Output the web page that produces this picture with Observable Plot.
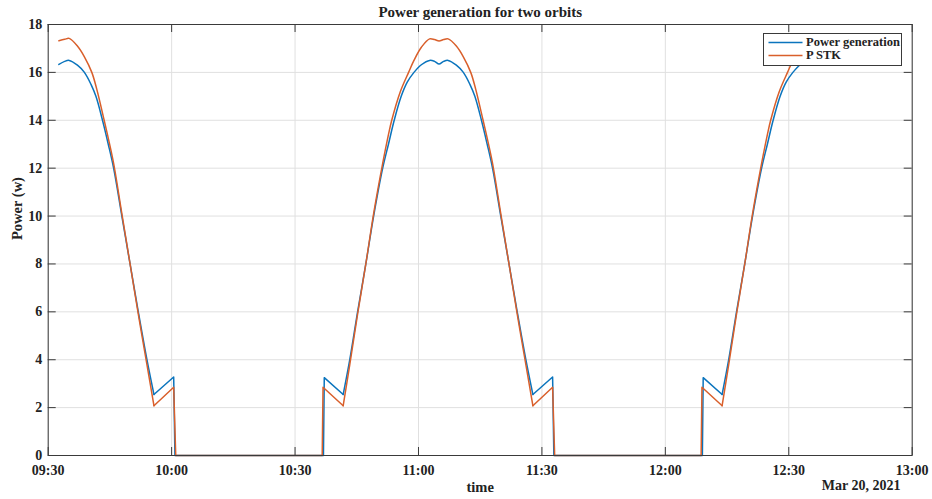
<!DOCTYPE html>
<html><head><meta charset="utf-8">
<script src="https://cdn.jsdelivr.net/npm/d3@7"></script>
<script src="https://cdn.jsdelivr.net/npm/@observablehq/plot@0.6"></script>
<style>
html,body{margin:0;padding:0;background:#fff;}
#wrap{position:relative;width:932px;height:499px;}
#legend{position:absolute;left:763px;top:33px;width:139px;height:33px;border:1px solid #3a3a3a;background:#fff;box-sizing:border-box;font:bold 12.5px "Liberation Serif",serif;color:#222;}
#legend .row{position:absolute;left:0;height:13px;line-height:13px;white-space:nowrap;}
#legend svg{position:absolute;left:4px;top:0;}
#legend span{position:absolute;left:42px;top:0;}
</style></head>
<body>
<div id="wrap"></div>
<script>
// Series: Power generation (blue)
const timesPG = [
 "09:32:36","09:34:00","09:35:06","09:37:06","09:38:48","09:40:24","09:41:36","09:43:12","09:44:36","09:45:54","09:47:54","09:49:54","09:51:54","09:54:00","09:55:42","10:00:30","10:00:48",
 "10:36:54","10:37:06","10:41:42","10:43:18","10:45:12","10:47:12","10:49:06","10:51:18","10:52:42","10:54:06","10:55:48","10:57:18","10:58:54","11:00:42","11:02:42","11:03:54","11:05:00","11:06:06","11:07:12","11:09:12","11:10:54","11:12:30","11:13:42","11:15:18","11:16:42","11:18:00","11:20:00","11:22:00","11:24:00","11:26:06","11:27:48","11:32:36","11:32:54",
 "12:09:00","12:09:12","12:13:48","12:15:24","12:17:18","12:19:18","12:21:12","12:23:24","12:24:48","12:26:12","12:27:54","12:29:24","12:31:00","12:32:48","12:34:48"
];
const valuesPG = [
 16.33,16.46,16.5,16.3,16.0,15.5,15.0,14.0,13.0,12.0,10.0,8.0,6.0,4.0,2.55,3.28,0,
 0,3.25,2.55,4.0,6.0,8.0,10.0,12.0,13.0,14.0,15.0,15.6,16.0,16.32,16.5,16.46,16.35,16.46,16.5,16.3,16.0,15.5,15.0,14.0,13.0,12.0,10.0,8.0,6.0,4.0,2.55,3.28,0,
 0,3.25,2.55,4.0,6.0,8.0,10.0,12.0,13.0,14.0,15.0,15.6,16.0,16.32,16.5
];
// Series: P STK (orange)
const timesSTK = [
 "09:32:36","09:34:00","09:35:06","09:37:06","09:38:48","09:40:36","09:41:48","09:43:36","09:44:48","09:45:54","09:47:54","09:49:54","09:51:54","09:54:00","09:55:42","10:00:30","10:01:00",
 "10:36:36","10:36:48","10:41:42","10:43:18","10:45:12","10:47:12","10:49:06","10:51:18","10:52:42","10:53:30","10:55:36","10:57:36","10:58:54","11:00:42","11:02:42","11:03:54","11:05:00","11:06:06","11:07:12","11:09:12","11:10:54","11:12:42","11:13:54","11:15:42","11:16:54","11:18:00","11:20:00","11:22:00","11:24:00","11:26:06","11:27:48","11:32:36","11:33:06",
 "12:08:42","12:08:54","12:13:48","12:15:24","12:17:18","12:19:18","12:21:12","12:23:24","12:24:48","12:25:36","12:27:42","12:29:42","12:31:00","12:32:48","12:34:48"
];
const valuesSTK = [
 17.32,17.38,17.42,17.1,16.65,16.0,15.3,14.0,13.1,12.2,10.1,8.0,5.9,3.8,2.08,2.85,0,
 0,2.85,2.08,3.8,5.9,8.0,10.1,12.2,13.4,14.0,15.2,16.0,16.5,17.05,17.4,17.37,17.31,17.37,17.4,17.1,16.65,16.0,15.3,14.0,13.1,12.2,10.1,8.0,5.9,3.8,2.08,2.85,0,
 0,2.85,2.08,3.8,5.9,8.0,10.1,12.2,13.4,14.0,15.2,16.0,16.5,17.05,17.4
];
const xTickLabels = ["09:30","10:00","10:30","11:00","11:30","12:00","12:30","13:00"];
const yTickValues = [0,2,4,6,8,10,12,14,16,18];
const seriesNames = ["Power generation","P STK"];
const seriesColors = ["#0a74bd","#d95f2b"];
const titleText = "Power generation for two orbits";
const xLabel = "time";
const yLabel = "Power (w)";
const dateLabel = "Mar 20, 2021";

const parse = d3.utcParse("%Y-%m-%d %H:%M:%S");
const T = s => parse("2021-03-20 " + (s.length === 5 ? s + ":00" : s));
const pg = timesPG.map((s, i) => ({time: T(s), power: valuesPG[i]}));
const stk = timesSTK.map((s, i) => ({time: T(s), power: valuesSTK[i]}));
const xTicks = xTickLabels.map(T);
const frameCol = "#3a3a3a";
const txtCol = "#222";

// split a series at its local minima: arcs (smooth) alternate with sharp connectors (linear)
function split(data) {
  const b = [0];
  for (let i = 1; i < data.length - 1; i++) {
    if (data[i].power > 0 && data[i - 1].power > data[i].power && data[i + 1].power > data[i].power && data[i].power < 3) b.push(i);
  }
  b.push(data.length - 1);
  const arcs = [], links = [];
  for (let k = 0; k < b.length - 1; k++) {
    const pts = data.slice(b[k], b[k + 1] + 1).map(d => ({...d, seg: k}));
    (k % 2 === 0 ? arcs : links).push(...pts);
  }
  return {arcs, links};
}
const sPG = split(pg), sSTK = split(stk);

const plot = Plot.plot({
  width: 932, height: 499,
  marginLeft: 47.7, marginRight: 20.3, marginTop: 24, marginBottom: 44,
  style: {fontFamily: "'Liberation Serif', serif", fontWeight: "bold", fontSize: "14px", color: txtCol, background: "#fff"},
  x: {type: "utc", domain: [T("09:30"), T("13:00")]},
  y: {domain: [0, 18]},
  marks: [
    Plot.gridX({ticks: xTicks, stroke: "#e0e0e0", strokeOpacity: 1}),
    Plot.gridY({ticks: yTickValues, stroke: "#e0e0e0", strokeOpacity: 1}),
    Plot.line(sPG.arcs, {x: "time", y: "power", z: "seg", curve: "catmull-rom", stroke: seriesColors[0], strokeWidth: 1.5}),
    Plot.line(sPG.links, {x: "time", y: "power", z: "seg", stroke: seriesColors[0], strokeWidth: 1.5}),
    Plot.line(sSTK.arcs, {x: "time", y: "power", z: "seg", curve: "catmull-rom", stroke: seriesColors[1], strokeWidth: 1.5}),
    Plot.line(sSTK.links, {x: "time", y: "power", z: "seg", stroke: seriesColors[1], strokeWidth: 1.5}),
    Plot.frame({stroke: frameCol, strokeWidth: 1}),
    Plot.tickX(xTicks, {x: d => d, insetTop: 423, stroke: frameCol}),
    Plot.tickX(xTicks, {x: d => d, insetBottom: 423, stroke: frameCol}),
    Plot.tickY(yTickValues, {y: d => d, insetRight: 856, stroke: frameCol}),
    Plot.tickY(yTickValues, {y: d => d, insetLeft: 856, stroke: frameCol}),
    Plot.axisX({ticks: xTicks, tickSize: 0, tickPadding: 10, tickFormat: d3.utcFormat("%H:%M"), label: null, fill: txtCol}),
    Plot.axisY({ticks: yTickValues, tickSize: 0, tickPadding: 6, label: null, fill: txtCol}),
    Plot.text([titleText], {frameAnchor: "top", lineAnchor: "middle", dy: -12, text: d => d, fontSize: 15, fontWeight: "bold", fill: txtCol}),
    Plot.text([xLabel], {frameAnchor: "bottom", lineAnchor: "middle", dy: 32, text: d => d, fontSize: 14.5, fontWeight: "bold", fill: txtCol}),
    Plot.text([dateLabel], {frameAnchor: "bottom-right", lineAnchor: "middle", dx: -11.7, dy: 30, textAnchor: "end", text: d => d, fontSize: 14, fontWeight: "bold", fill: txtCol}),
    Plot.text([yLabel], {frameAnchor: "left", lineAnchor: "middle", dx: -31, rotate: -90, text: d => d, fontSize: 14.5, fontWeight: "bold", fill: txtCol})
  ]
});
const wrap = document.getElementById("wrap");
wrap.appendChild(plot);

const legend = document.createElement("div");
legend.id = "legend";
seriesNames.forEach((name, i) => {
  const row = document.createElement("div");
  row.className = "row";
  row.style.top = (2 + i * 12.6) + "px";
  row.innerHTML = `<svg width="36" height="13"><line x1="0.5" x2="34.5" y1="6.5" y2="6.5" stroke="${seriesColors[i]}" stroke-width="1.5"/></svg><span>${name}</span>`;
  legend.appendChild(row);
});
wrap.appendChild(legend);
</script>
</body></html>
